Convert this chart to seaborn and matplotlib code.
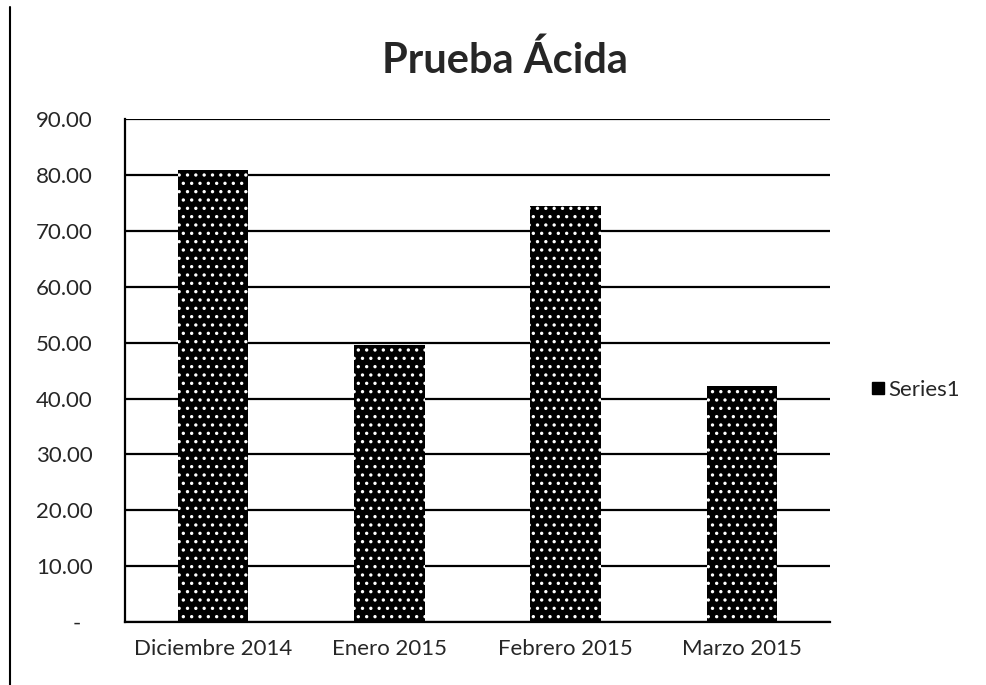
import matplotlib
matplotlib.use("Agg")
import matplotlib.pyplot as plt
import matplotlib.lines as mlines
import seaborn as sns

months = ["Diciembre 2014", "Enero 2015", "Febrero 2015", "Marzo 2015"]
values = [80.9, 49.6, 74.4, 42.2]
series_name = "Series1"
y_ticks = [0, 10, 20, 30, 40, 50, 60, 70, 80, 90]
y_labels = ["-  "] + [f"{v:.2f}" for v in y_ticks[1:]]

sns.set_style("white")
plt.rcParams["font.family"] = ["Lato", "DejaVu Sans"]
plt.rcParams["hatch.linewidth"] = 1.2

fig = plt.figure(figsize=(9.87, 6.85), dpi=100)
ax = fig.add_axes([0.1266, 0.092, 0.7144, 0.734])

ax.set_axisbelow(True)
ax.yaxis.grid(True, color="black", linewidth=1.6)
sns.barplot(x=months, y=values, color="black", width=0.4, ax=ax,
            label=series_name, saturation=1)
for bar in ax.patches:
    bar.set_facecolor("black")
    bar.set_edgecolor("white")
    bar.set_linewidth(0)
    bar.set_hatch("..")

ax.set_ylim(0, 90)
ax.set_yticks(y_ticks)
ax.set_yticklabels(y_labels, fontsize=16)
ax.tick_params(axis="x", labelsize=16, length=0, pad=12)
ax.tick_params(axis="y", length=0, pad=23)
ax.set_xlabel("")
ax.set_ylabel("")

for side in ["top", "right"]:
    ax.spines[side].set_visible(False)
ax.spines["left"].set_color("black")
ax.spines["left"].set_linewidth(1.6)
ax.spines["bottom"].set_color("black")
ax.spines["bottom"].set_linewidth(1.6)

fig.text(0.512, 0.8934, "Prueba Ácida", ha="center", va="baseline",
         fontsize=30, fontweight="bold")

handle = mlines.Line2D([], [], color="black", marker="s", linestyle="none",
                       markersize=8)
ax.legend([handle], [series_name], loc="center left", frameon=False,
          bbox_to_anchor=(0.872, 0.431), bbox_transform=fig.transFigure,
          fontsize=16, handletextpad=0.15, handlelength=0.6, borderpad=0)

# scan border on the left
fig.add_artist(mlines.Line2D([0.0105, 0.0105], [0.0, 0.99], color="black",
                             linewidth=1.5, transform=fig.transFigure))

fig.savefig("out.png", dpi=100)
